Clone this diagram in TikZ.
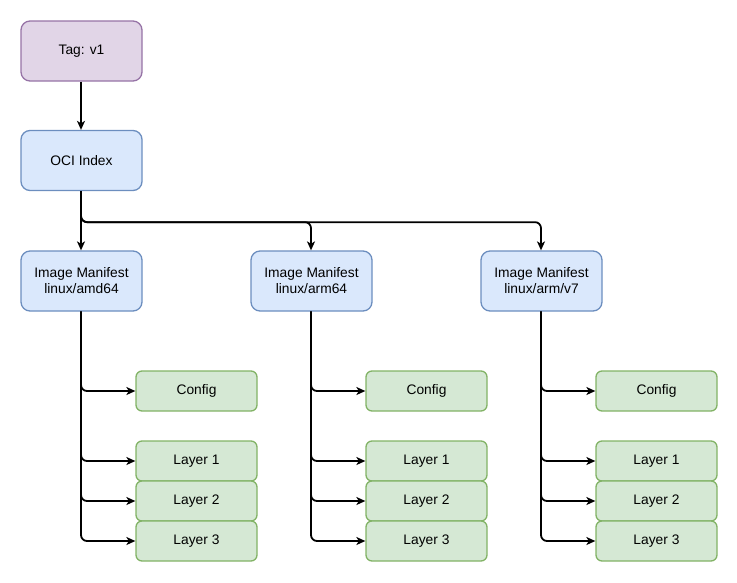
\documentclass[tikz,border=0pt]{standalone}
\usepackage{fontspec}
\setmainfont{Liberation Sans}
\usetikzlibrary{arrows.meta}
\definecolor{pfill}{HTML}{E1D5E7}\definecolor{pline}{HTML}{9673A6}
\definecolor{bfill}{HTML}{DAE8FC}\definecolor{bline}{HTML}{6C8EBF}
\definecolor{gfill}{HTML}{D5E8D4}\definecolor{gline}{HTML}{82B366}
\begin{document}
\begin{tikzpicture}[x=1pt,y=-1pt,
  box/.style={rectangle,rounded corners=9pt,line width=1.3pt,minimum width=121pt,minimum height=60pt,inner sep=0pt,align=center,font=\fontsize{13.8}{16}\selectfont},
  tagbox/.style={box,fill=pfill,draw=pline},
  bluebox/.style={box,fill=bfill,draw=bline},
  greenbox/.style={box,fill=gfill,draw=gline,minimum height=40pt,rounded corners=6pt},
  conn/.style={line width=1.8pt,rounded corners=6pt,-{Stealth[length=9pt,width=8pt,inset=2.5pt]}}]
\useasboundingbox (0,0) rectangle (737,582);
\node[tagbox] (tag) at (81.5,51) {Tag: v1};
\node[bluebox] (idx) at (81.5,160.5) {OCI Index};
\foreach \i/\x/\p in {1/81.5/{linux/amd64},2/311.5/{linux/arm64},3/541.5/{linux/arm/v7}}{
  \node[bluebox] (m\i) at (\x,281) {Image Manifest\\\p};
  \node[greenbox] (c\i) at (\x+115,391) {Config};
  \node[greenbox] (la\i) at (\x+115,461) {Layer 1};
  \node[greenbox] (lb\i) at (\x+115,501) {Layer 2};
  \node[greenbox] (lc\i) at (\x+115,541) {Layer 3};
  \foreach \t in {c,la,lb,lc}{
    \draw[conn] ([xshift=-0.5pt]m\i.south) |- (\t\i.west);
  }
}
\draw[conn] ([xshift=-0.5pt]tag.south) -- ([xshift=-0.5pt]idx.north);
\draw[conn] ([xshift=-0.5pt]idx.south) -- ([xshift=-0.5pt]m1.north);
\draw[conn] ([xshift=-0.5pt]idx.south) -- ++(0,31) -| ([xshift=-0.5pt]m2.north);
\draw[conn] ([xshift=-0.5pt]idx.south) -- ++(0,31) -| ([xshift=-0.5pt]m3.north);
\end{tikzpicture}
\end{document}
